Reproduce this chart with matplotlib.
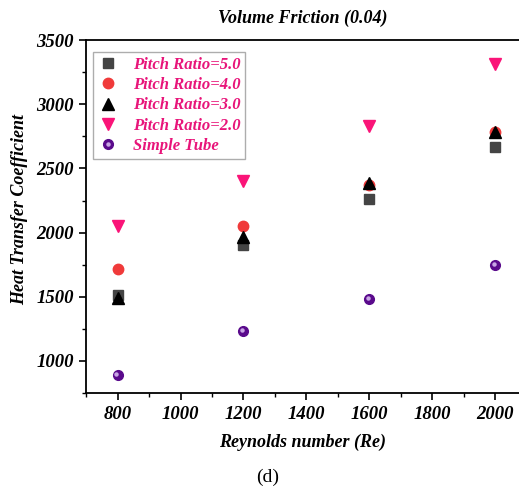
import matplotlib
matplotlib.use('Agg')
import matplotlib.pyplot as plt
import matplotlib.transforms as mtransforms
from matplotlib.font_manager import FontProperties
from matplotlib.legend_handler import HandlerTuple
from matplotlib.ticker import MultipleLocator

re_vals = [800, 1200, 1600, 2000]
pr5 = [1510, 1900, 2260, 2670]
pr4 = [1715, 2055, 2370, 2780]
pr3 = [1490, 1965, 2385, 2780]
pr2 = [2050, 2405, 2830, 3315]
simple = [890, 1230, 1480, 1745]

labels = ['Pitch Ratio=5.0', 'Pitch Ratio=4.0', 'Pitch Ratio=3.0',
          'Pitch Ratio=2.0', 'Simple Tube']

serif = 'Liberation Serif'
bi = dict(family=serif, weight='bold', style='italic')

fig = plt.figure(figsize=(5.19, 4.95), dpi=100)
ax = fig.add_axes([0.166, 0.206, 0.834, 0.713])

h5, = ax.plot(re_vals, pr5, ls='none', marker='s', ms=6.5, color='#444444')
h4, = ax.plot(re_vals, pr4, ls='none', marker='o', ms=7.5, color='#f03a3a')
h3, = ax.plot(re_vals, pr3, ls='none', marker='^', ms=8, color='black')
h2, = ax.plot(re_vals, pr2, ls='none', marker='v', ms=8.5, color='#fa1478')
hs, = ax.plot(re_vals, simple, ls='none', marker='o', ms=7, color='#5a0a8c')
# small highlight to mimic the shaded sphere
shift = mtransforms.offset_copy(ax.transData, fig=fig, x=-1.0, y=1.0, units='points')
hl, = ax.plot(re_vals, simple, ls='none', marker='o', ms=2.2, color='#c9a6e6',
              transform=shift)

ax.set_xlim(700, 2076)
ax.set_ylim(750, 3500)
ax.xaxis.set_major_locator(MultipleLocator(200))
ax.xaxis.set_minor_locator(MultipleLocator(100))
ax.yaxis.set_major_locator(MultipleLocator(500))
ax.yaxis.set_minor_locator(MultipleLocator(250))
ax.tick_params(which='major', direction='out', length=5, width=1.2, pad=4)
ax.tick_params(which='minor', direction='out', length=3, width=1.0)
ax.spines['right'].set_visible(False)
for s in ('left', 'bottom', 'top'):
    ax.spines[s].set_linewidth(1.3)

for t in ax.get_xticklabels() + ax.get_yticklabels():
    t.set_fontproperties(FontProperties(size=13.5, **bi))

ax.set_xlabel('Reynolds number (Re)', fontsize=13, labelpad=8, **bi)
ax.set_ylabel('Heat Transfer Coefficient', fontsize=13, labelpad=4, **bi)
ax.yaxis.set_label_coords(-0.135, 0.52)
ax.set_title('Volume Friction (0.04)', fontsize=13, pad=12, **bi)

leg = ax.legend([h5, h4, h3, h2, (hs, hl)], labels,
                handler_map={tuple: HandlerTuple(ndivide=1)},
                loc='upper left', bbox_to_anchor=(0.0155, 0.966),
                borderaxespad=0,
                prop=FontProperties(size=12, **bi),
                frameon=True, fancybox=False, edgecolor='#999999',
                handlelength=1.2, handletextpad=0.9, labelspacing=0.25,
                borderpad=0.3)
for t in leg.get_texts():
    t.set_color('#e8157a')

fig.text(0.515, 0.027, '(d)', family=serif, fontsize=14, ha='center')

fig.savefig('out.png', dpi=100)
